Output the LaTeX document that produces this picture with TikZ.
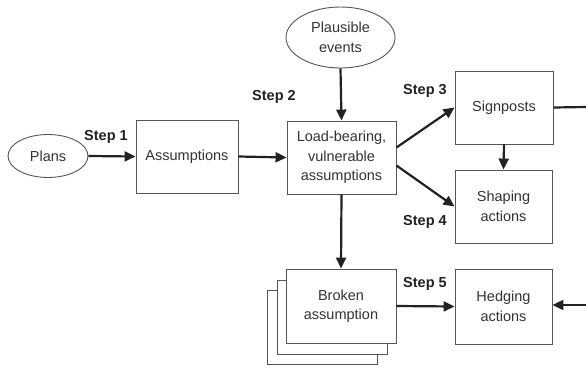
\documentclass[tikz,border=0pt]{standalone}
\usepackage{fontspec}
\setmainfont{Liberation Sans}
\usetikzlibrary{shapes.geometric,arrows.meta}
\definecolor{ink}{HTML}{222222}
\definecolor{boxline}{HTML}{555555}
\definecolor{txt}{HTML}{333333}
\begin{document}
\begin{tikzpicture}[x=1pt,y=-1pt,
  every node/.style={font=\fontsize{14.5}{19.5}\selectfont, text=txt, align=center},
  stepbox/.style={draw=boxline, line width=0.9pt, fill=white, inner sep=0pt},
  oval/.style={ellipse, draw=boxline, line width=0.9pt, inner sep=0pt},
  steplabel/.style={font=\fontsize{14.5}{17}\selectfont\bfseries, text=ink},
  arr/.style={draw=ink, line width=2.2pt, -{Triangle[length=11pt,width=10pt]}},
  ln/.style={draw=ink, line width=2.2pt}]
\useasboundingbox (0,0) rectangle (586,367);
\node[oval, minimum width=80pt, minimum height=43pt] (plans) at (48,156) {Plans};
\node[stepbox, minimum width=102pt, minimum height=73pt] (assume) at (187,156.5) {Assumptions};
\node[stepbox, minimum width=109pt, minimum height=73pt] (load) at (341.5,157.5) {Load-bearing,\\vulnerable\\assumptions};
\node[oval, minimum width=109pt, minimum height=61pt] (plaus) at (340.5,37.5) {Plausible\\events};
\node[stepbox, minimum width=98pt, minimum height=73pt] (sign) at (504,107.5) {Signposts};
\node[stepbox, minimum width=97pt, minimum height=73pt] (shape) at (503.5,206.5) {Shaping\\actions};
\node[stepbox, minimum width=110pt, minimum height=74pt] (broken3) at (322,327.5) {};
\node[stepbox, minimum width=110pt, minimum height=74pt] (broken2) at (332,317) {};
\node[stepbox, minimum width=110pt, minimum height=74pt] (broken) at (341,306) {Broken\\assumption};
\node[stepbox, minimum width=97pt, minimum height=75pt] (hedge) at (503.5,306.5) {Hedging\\actions};
\node[steplabel] (s1) at (106,137) {Step 1};
\node[steplabel] (s2) at (274,97) {Step 2};
\node[steplabel] (s3) at (425,91) {Step 3};
\node[steplabel] (s4) at (425,222) {Step 4};
\node[steplabel] (s5) at (425,284) {Step 5};
\coordinate (rightout) at (586,107);
\coordinate (rightin) at (586,305);
\draw[arr] (plans.east) -- (assume.west);
\draw[arr] (assume.east) -- (load.west);
\draw[arr] (plaus.south) -- (load.north);
\draw[arr] ([yshift=10pt]load.east) -- (sign.west);
\draw[arr] ([yshift=-8pt]load.east) -- (shape.west);
\draw[arr] (sign.south) -- (shape.north);
\draw[arr] (load.south) -- (broken.north);
\draw[arr] (broken.east) -- (hedge.west);
\draw[ln] (sign.east) -- (rightout);
\draw[arr] (rightin) -- (hedge.east |- rightin);
\end{tikzpicture}
\end{document}
